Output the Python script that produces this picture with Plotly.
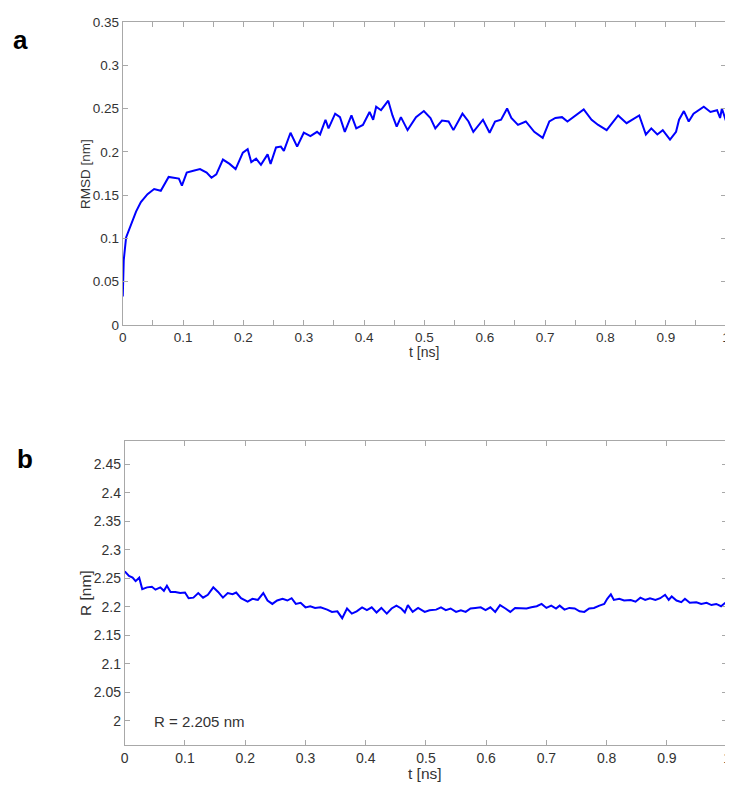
import plotly.graph_objects as go

# ---- data: panel a (RMSD vs time) ----
t_rmsd = [0.000, 0.0016, 0.0055, 0.0136, 0.022, 0.030, 0.041, 0.052, 0.063, 0.076,
          0.093, 0.098, 0.106, 0.117, 0.128, 0.139, 0.147, 0.155, 0.166, 0.177,
          0.187, 0.199, 0.207, 0.213, 0.221, 0.229, 0.240, 0.245, 0.254, 0.262,
          0.267, 0.278, 0.289, 0.300, 0.311, 0.322, 0.327, 0.336, 0.341, 0.352,
          0.360, 0.368, 0.379, 0.387, 0.398, 0.409, 0.415, 0.420, 0.428, 0.440,
          0.447, 0.454, 0.461, 0.472, 0.486, 0.499, 0.510, 0.518, 0.529, 0.540,
          0.548, 0.563, 0.573, 0.581, 0.597, 0.608, 0.617, 0.627, 0.637, 0.644,
          0.655, 0.668, 0.682, 0.696, 0.707, 0.717, 0.728, 0.737, 0.750, 0.764,
          0.777, 0.788, 0.802, 0.821, 0.835, 0.856, 0.867, 0.876, 0.886, 0.895,
          0.907, 0.917, 0.922, 0.930, 0.938, 0.946, 0.963, 0.974, 0.985, 0.990,
          0.993, 1.000]
rmsd = [0.033, 0.075, 0.101, 0.116, 0.131, 0.142, 0.151, 0.157, 0.155, 0.171,
        0.169, 0.161, 0.176, 0.178, 0.180, 0.176, 0.170, 0.174, 0.191, 0.186,
        0.180, 0.199, 0.203, 0.188, 0.192, 0.185, 0.197, 0.186, 0.205, 0.206,
        0.201, 0.222, 0.206, 0.222, 0.218, 0.223, 0.220, 0.237, 0.227, 0.244,
        0.240, 0.223, 0.242, 0.227, 0.231, 0.246, 0.237, 0.252, 0.248, 0.259,
        0.242, 0.229, 0.240, 0.225, 0.240, 0.247, 0.239, 0.227, 0.236, 0.235,
        0.225, 0.244, 0.235, 0.223, 0.237, 0.222, 0.235, 0.237, 0.250, 0.239,
        0.231, 0.235, 0.223, 0.216, 0.235, 0.239, 0.240, 0.235, 0.242, 0.249,
        0.237, 0.231, 0.225, 0.242, 0.233, 0.242, 0.220, 0.227, 0.220, 0.225,
        0.214, 0.223, 0.237, 0.247, 0.235, 0.244, 0.252, 0.246, 0.248, 0.239,
        0.250, 0.235]

# ---- data: panel b (R vs time) ----
t_r = [0.000, 0.007, 0.013, 0.018, 0.024, 0.029, 0.037, 0.045, 0.051, 0.059,
       0.065, 0.070, 0.076, 0.084, 0.092, 0.100, 0.106, 0.114, 0.122, 0.130,
       0.138, 0.147, 0.155, 0.163, 0.171, 0.179, 0.185, 0.193, 0.204, 0.212,
       0.221, 0.230, 0.237, 0.245, 0.253, 0.262, 0.270, 0.277, 0.284, 0.292,
       0.300, 0.308, 0.316, 0.325, 0.336, 0.344, 0.353, 0.361, 0.369, 0.377,
       0.385, 0.394, 0.402, 0.410, 0.418, 0.426, 0.435, 0.443, 0.451, 0.459,
       0.465, 0.470, 0.478, 0.487, 0.498, 0.506, 0.517, 0.525, 0.533, 0.541,
       0.550, 0.558, 0.566, 0.574, 0.582, 0.591, 0.599, 0.607, 0.615, 0.623,
       0.632, 0.640, 0.648, 0.659, 0.667, 0.675, 0.684, 0.692, 0.700, 0.708,
       0.716, 0.722, 0.730, 0.738, 0.747, 0.755, 0.763, 0.771, 0.779, 0.788,
       0.796, 0.801, 0.807, 0.812, 0.821, 0.829, 0.840, 0.848, 0.856, 0.864,
       0.872, 0.881, 0.889, 0.897, 0.903, 0.908, 0.916, 0.924, 0.930, 0.938,
       0.949, 0.957, 0.966, 0.974, 0.982, 0.990, 0.997]
r_nm = [2.262, 2.254, 2.251, 2.245, 2.251, 2.231, 2.234, 2.235, 2.230, 2.234,
        2.228, 2.237, 2.226, 2.226, 2.224, 2.225, 2.215, 2.216, 2.224, 2.216,
        2.221, 2.234, 2.226, 2.216, 2.224, 2.222, 2.225, 2.215, 2.209, 2.214,
        2.212, 2.224, 2.211, 2.205, 2.211, 2.214, 2.211, 2.215, 2.205, 2.207,
        2.199, 2.201, 2.198, 2.199, 2.195, 2.191, 2.192, 2.180, 2.197, 2.188,
        2.192, 2.199, 2.194, 2.199, 2.190, 2.198, 2.188, 2.197, 2.202, 2.197,
        2.190, 2.203, 2.191, 2.198, 2.191, 2.194, 2.195, 2.199, 2.194, 2.197,
        2.191, 2.194, 2.191, 2.197, 2.198, 2.199, 2.194, 2.199, 2.191, 2.203,
        2.197, 2.191, 2.198, 2.197, 2.197, 2.199, 2.201, 2.205, 2.198, 2.202,
        2.197, 2.202, 2.195, 2.198, 2.197, 2.192, 2.191, 2.197, 2.198, 2.202,
        2.205, 2.214, 2.222, 2.212, 2.214, 2.211, 2.212, 2.209, 2.216, 2.212,
        2.215, 2.212, 2.215, 2.221, 2.212, 2.218, 2.211, 2.208, 2.214, 2.207,
        2.208, 2.205, 2.207, 2.203, 2.205, 2.201, 2.207]

# ---- ticks ----
a_xtickvals = [i * 0.05 for i in range(21)]
a_xticktext = ["0", "", "0.1", "", "0.2", "", "0.3", "", "0.4", "", "0.5", "",
               "0.6", "", "0.7", "", "0.8", "", "0.9", "", "1"]
a_ytickvals = [0, 0.05, 0.1, 0.15, 0.2, 0.25, 0.3, 0.35]
a_yticktext = ["0", "0.05", "0.1", "0.15", "0.2", "0.25", "0.3", "0.35"]
b_xtickvals = [i * 0.1 for i in range(11)]
b_xticktext = ["0", "0.1", "0.2", "0.3", "0.4", "0.5", "0.6", "0.7", "0.8", "0.9", "1"]
b_ytickvals = [2.0, 2.05, 2.1, 2.15, 2.2, 2.25, 2.3, 2.35, 2.4, 2.45]
b_yticktext = ["2", "2.05", "2.1", "2.15", "2.2", "2.25", "2.3", "2.35", "2.4", "2.45"]

# page offset introduced by the default body margin
OFF = 8
W, H = 733, 789
FONT = "Liberation Sans, Arial, sans-serif"
FRAME = "#a8a8a8"
TXT = "#333333"
BLUE = "#0000ff"


def px_x(p):
    return (p - OFF) / W


def px_y(p):
    return 1 - (p - OFF) / H


fig = go.Figure()
fig.add_trace(go.Scatter(x=t_rmsd, y=rmsd, mode="lines",
                         line=dict(color=BLUE, width=2), xaxis="x", yaxis="y",
                         showlegend=False))
fig.add_trace(go.Scatter(x=t_r, y=r_nm, mode="lines",
                         line=dict(color=BLUE, width=2), xaxis="x2", yaxis="y2",
                         showlegend=False))

common = dict(showgrid=False, zeroline=False, showline=True, linecolor=FRAME,
              linewidth=1, mirror="allticks", ticks="inside", ticklen=5,
              tickcolor=FRAME, tickmode="array", ticklabeloverflow="allow")

fig.update_layout(
    width=W, height=H,
    margin=dict(l=0, r=0, t=0, b=0),
    paper_bgcolor="white", plot_bgcolor="white",
    font=dict(family=FONT, color=TXT),
    xaxis=dict(domain=[px_x(120), px_x(730)], range=[0, 1], anchor="y",
               tickvals=a_xtickvals, ticktext=a_xticktext,
               tickfont=dict(size=13.5, color=TXT), **common),
    yaxis=dict(domain=[px_y(324), px_y(15)], range=[0, 0.35], anchor="x",
               tickvals=a_ytickvals, ticktext=a_yticktext,
               tickfont=dict(size=13.5, color=TXT), **common),
    xaxis2=dict(domain=[px_x(122), px_x(731)], range=[0, 1], anchor="y2",
                tickvals=b_xtickvals, ticktext=b_xticktext,
                tickfont=dict(size=14, color=TXT), **common),
    yaxis2=dict(domain=[px_y(752), px_y(442)], range=[1.958, 2.491], anchor="x2",
                tickvals=b_ytickvals, ticktext=b_yticktext,
                tickfont=dict(size=14, color=TXT), **common),
)

annots = [
    dict(text="<b>a</b>", x=px_x(17), y=px_y(33), size=26),
    dict(text="<b>b</b>", x=px_x(21), y=px_y(461), size=26),
    dict(text="RMSD [nm]", x=px_x(83), y=px_y(170), size=13.5, angle=-90),
    dict(text="t [ns]", x=px_x(425), y=px_y(352), size=14),
    dict(text="R [nm]", x=px_x(83), y=px_y(597), size=15.5, angle=-90),
    dict(text="t [ns]", x=px_x(426), y=px_y(781), size=15.5),
    dict(text="R = 2.205 nm", x=px_x(197), y=px_y(728), size=15),
]
for a in annots:
    fig.add_annotation(text=a["text"], x=a["x"], y=a["y"], xref="paper", yref="paper",
                       xanchor="center", yanchor="middle", showarrow=False,
                       textangle=a.get("angle", 0),
                       font=dict(family=FONT, size=a["size"],
                                 color="black" if a["text"].startswith("<b>") else TXT))

fig.write_html("out.html")
